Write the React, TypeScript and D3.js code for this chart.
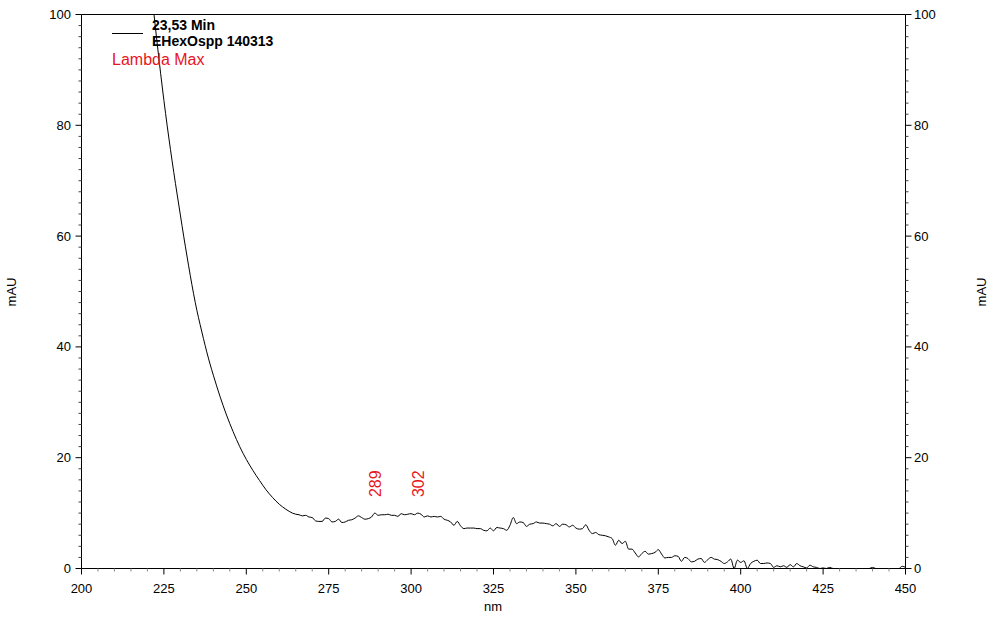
import React from "react";
import * as d3 from "d3";

const wavelengths: number[] = [
  221, 222, 223, 224, 225, 226, 227, 228, 229, 230, 231, 232, 233, 234, 235, 236, 237, 238, 239, 240,
  242, 244, 246, 248, 250, 252, 254, 256, 258, 260, 262,
  264, 265, 266, 267, 268, 269, 270, 271, 272, 273, 274, 275, 276, 277, 278, 279, 280,
  281, 282, 283, 284, 285, 286, 287, 288, 289, 290, 291, 292, 293, 294, 295, 296, 297, 298, 299, 300,
  301, 302, 303, 304, 305, 306, 307, 308, 309, 310, 311, 312, 313, 314, 315, 316, 317, 318, 319, 320,
  321, 322, 323, 324, 325, 326, 327, 328, 329, 330, 331, 332, 333, 334, 335, 336, 337, 338, 339, 340,
  341, 342, 343, 344, 345, 346, 347, 348, 349, 350, 351, 352, 353, 354, 355, 356, 357, 358, 359, 360,
  361, 362, 363, 364, 365, 366, 367, 368, 369, 370, 371, 372, 373, 374, 375, 376, 377, 378, 379, 380,
  381, 382, 383, 384, 385, 386, 387, 388, 389, 390, 391, 392, 393, 394, 395, 396, 397, 398, 399, 400,
  401, 402, 403, 404, 405, 406, 407, 408, 409, 410, 411, 412, 413, 414, 415, 416, 417, 418, 419, 420,
  421, 422, 423, 424, 425, 426, 427, 428, 430, 435, 439, 440, 441, 445, 448, 449, 450,
];

const absorbance: number[] = [
  106, 100, 94.6, 89.4, 84.5, 79.9, 75.6, 71.5, 67.6, 63.8, 60.0, 56.4, 52.9, 49.6, 46.6, 44.0, 41.5, 39.1, 36.9, 34.9,
  31.1, 27.7, 24.7, 22.0, 19.7, 17.7, 15.9, 14.2, 12.8, 11.6, 10.7,
  10.0, 9.8, 9.7, 9.5, 9.6, 9.3, 9.2, 8.6, 8.5, 8.5, 9.1, 9.0, 8.4, 8.5, 8.9, 8.3, 8.4,
  8.7, 8.8, 9.1, 9.5, 9.2, 8.9, 9.0, 9.3, 10.0, 9.6, 9.7, 9.7, 9.8, 9.6, 9.6, 9.4, 9.9, 9.7, 9.8, 9.9,
  9.7, 10.0, 9.8, 9.3, 9.5, 9.3, 9.4, 9.3, 9.4, 8.9, 8.7, 8.4, 7.8, 8.5, 7.7, 7.2, 7.3, 7.3, 7.3, 7.2,
  7.2, 6.9, 6.8, 7.3, 6.8, 7.4, 7.3, 7.2, 6.9, 7.8, 9.2, 8.1, 8.4, 8.3, 7.6, 8.0, 8.1, 8.4, 8.2, 8.2,
  8.1, 8.0, 7.7, 8.1, 7.6, 8.0, 7.9, 7.5, 7.8, 7.3, 7.1, 7.2, 7.9, 6.9, 6.3, 6.5, 6.1, 6.0, 5.9, 5.7,
  5.4, 4.2, 5.1, 4.5, 4.9, 3.5, 3.5, 2.8, 2.1, 2.7, 3.1, 2.6, 2.7, 2.9, 3.4, 2.6, 1.9, 2.0, 2.0, 2.3,
  2.2, 1.3, 2.0, 1.8, 1.2, 1.3, 1.7, 1.8, 1.1, 1.6, 2.0, 1.7, 1.6, 1.3, 0.9, 1.2, 1.7, 0.0, 1.5, 1.1,
  1.4, 0.0, 0.9, 1.3, 1.5, 0.9, 0.9, 1.0, 0.9, 0.2, 0.5, 0.3, 0.5, 0.2, 0.7, 0.3, 0.9, 0.5, 0.3, 0.1,
  0.6, 0.3, 0.2, 0.0, 0.1, 0.0, 0.2, 0.0, 0.0, 0.0, 0.0, 0.2, 0.0, 0.0, 0.0, 0.4, 0.2,
];

const xTickLabels: number[] = [200, 225, 250, 275, 300, 325, 350, 375, 400, 425, 450];
const yTickLabels: number[] = [0, 20, 40, 60, 80, 100];
const peakWavelengths: number[] = [289, 302];
const peakValues: number[] = [10.0, 10.0];

const legendTitle = "23,53 Min";
const legendSubtitle = "EHexOspp 140313";
const lambdaLabel = "Lambda Max";

const W = 1001;
const H = 639;
const FONT = "'Liberation Sans', Arial, Helvetica, sans-serif";

export default function App() {
  const x = d3.scaleLinear().domain([200, 450]).range([81.5, 905.5]);
  const y = d3.scaleLinear().domain([0, 100]).range([568.5, 14.5]);

  const data = wavelengths.map((w, i) => [w, absorbance[i]] as [number, number]);
  const line = d3
    .line<[number, number]>()
    .x((d) => x(d[0]))
    .y((d) => y(d[1]))
    .curve(d3.curveMonotoneX);

  const xMinor = d3.range(200, 451, 5).filter((v) => v % 25 !== 0);
  const yMinor = d3.range(0, 101, 2).filter((v) => v % 20 !== 0);

  const x0 = x(200);
  const x1 = x(450);
  const yb = y(0);
  const yt = y(100);

  return (
    <div style={{ position: "absolute", left: 0, top: 0 }}>
      <svg width={W} height={H} style={{ display: "block", background: "#fff" }} fontFamily={FONT}>
        <defs>
          <clipPath id="plotClip">
            <rect x={x0} y={yt} width={x1 - x0} height={yb - yt + 1} />
          </clipPath>
        </defs>

        {/* curve */}
        <path d={line(data) || ""} fill="none" stroke="#000" strokeWidth={1} clipPath="url(#plotClip)" />

        {/* frame */}
        <line x1={x0} x2={x1} y1={yt} y2={yt} stroke="#000" strokeWidth={1} />
        <line x1={x0} x2={x1} y1={yb} y2={yb} stroke="#000" strokeWidth={1} />
        <line x1={x0} x2={x0} y1={yt} y2={yb} stroke="#000" strokeWidth={1} />
        <line x1={x1} x2={x1} y1={yt} y2={yb} stroke="#000" strokeWidth={1} />

        {/* bottom axis ticks */}
        {xMinor.map((v) => (
          <line key={"xm" + v} x1={x(v)} x2={x(v)} y1={yb} y2={yb + 3} stroke="#888" strokeWidth={1} />
        ))}
        {xTickLabels.map((v) => (
          <g key={"xt" + v}>
            <line x1={x(v)} x2={x(v)} y1={yb} y2={yb + 6} stroke="#000" strokeWidth={1} />
            <text x={x(v)} y={593} textAnchor="middle" fontSize={13} fill="#000">
              {v}
            </text>
          </g>
        ))}

        {/* left axis ticks */}
        {yMinor.map((v) => (
          <line key={"ylm" + v} x1={x0 - 3} x2={x0} y1={y(v)} y2={y(v)} stroke="#444" strokeWidth={1} />
        ))}
        {yTickLabels.map((v) => (
          <g key={"ylt" + v}>
            <line x1={x0 - 6} x2={x0} y1={y(v)} y2={y(v)} stroke="#000" strokeWidth={1} />
            <text x={71} y={y(v)} dy="0.35em" textAnchor="end" fontSize={13} fill="#000">
              {v}
            </text>
          </g>
        ))}

        {/* right axis ticks */}
        {yMinor.map((v) => (
          <line key={"yrm" + v} x1={x1} x2={x1 + 3} y1={y(v)} y2={y(v)} stroke="#444" strokeWidth={1} />
        ))}
        {yTickLabels.map((v) => (
          <g key={"yrt" + v}>
            <line x1={x1} x2={x1 + 6} y1={y(v)} y2={y(v)} stroke="#000" strokeWidth={1} />
            <text x={914} y={y(v)} dy="0.35em" textAnchor="start" fontSize={13} fill="#000">
              {v}
            </text>
          </g>
        ))}

        {/* axis titles */}
        <text x={493} y={611} textAnchor="middle" fontSize={13} fill="#000">
          nm
        </text>
        <text transform={`translate(16,292) rotate(-90)`} textAnchor="middle" fontSize={13} fill="#000">
          mAU
        </text>
        <text transform={`translate(986,292) rotate(-90)`} textAnchor="middle" fontSize={13} fill="#000">
          mAU
        </text>

        {/* legend */}
        <line x1={112} x2={143} y1={33.5} y2={33.5} stroke="#000" strokeWidth={1} />
        <text x={152} y={30} fontSize={14} fontWeight="bold" fill="#000">
          {legendTitle}
        </text>
        <text x={152} y={46} fontSize={14} fontWeight="bold" fill="#000">
          {legendSubtitle}
        </text>
        <text x={112} y={65} fontSize={16} fill="#e8141c">
          {lambdaLabel}
        </text>

        {/* peak labels */}
        {peakWavelengths.map((w, i) => (
          <text
            key={"pk" + w}
            transform={`translate(${x(w) + 6.5},${y(peakValues[i]) - 16}) rotate(-90)`}
            textAnchor="start"
            fontSize={16}
            fill="#e8141c"
          >
            {w}
          </text>
        ))}
      </svg>
    </div>
  );
}
